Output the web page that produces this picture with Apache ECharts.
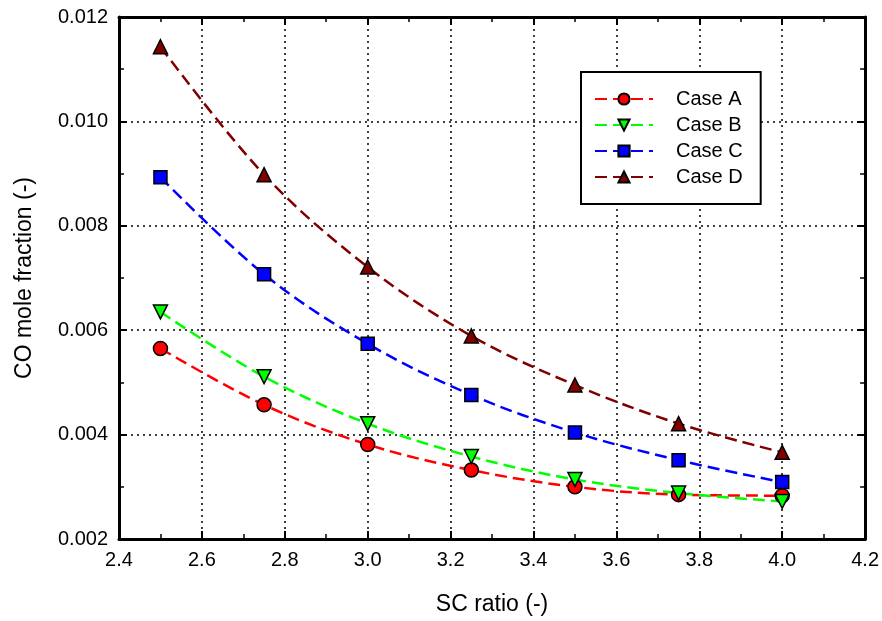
<!DOCTYPE html>
<html>
<head>
<meta charset="utf-8">
<script src="https://cdn.jsdelivr.net/npm/echarts@6/dist/echarts.min.js"></script>
<style>
html,body{margin:0;padding:0;background:#fff;}
#chart{width:882px;height:621px;}
</style>
</head>
<body>
<div id="chart"></div>
<script>
var fontFamily='Arial,"Liberation Sans",Helvetica,sans-serif';
var scRatio=[2.5,2.75,3.0,3.25,3.5,3.75,4.0];
var caseA=[0.00565,0.00457,0.00381,0.00332,0.00300,0.00285,0.00283];
var caseB=[0.00635,0.00511,0.00421,0.00358,0.00314,0.00288,0.00272];
var caseC=[0.00893,0.00707,0.00574,0.00476,0.00404,0.00351,0.00309];
var caseD=[0.01143,0.00898,0.00721,0.00589,0.00495,0.00421,0.00366];

function pairs(ys){
    return scRatio.map(function(x,i){return [x,ys[i]];});
}
function mkSeries(name,ys,color,symbol,size,rot){
    return {
        name:name,
        type:'line',
        xAxisIndex:0,
        yAxisIndex:0,
        smooth:0.35,
        data:pairs(ys),
        symbol:symbol,
        symbolSize:size,
        symbolRotate:rot||0,
        lineStyle:{color:color,width:2.5,type:[12,6]},
        itemStyle:{color:color,borderColor:'#000',borderWidth:1.5},
        z:3
    };
}
var chart=echarts.init(document.getElementById('chart'),null,{renderer:'canvas'});
var baseX={
    type:'value',min:2.4,max:4.2,interval:0.2,
    axisLine:{show:true,onZero:false,lineStyle:{color:'#000',width:3}},
    axisTick:{show:true,inside:true,length:8,lineStyle:{color:'#000',width:2}},
    minorTick:{show:true,splitNumber:2,length:5,lineStyle:{color:'#000',width:1.5}}
};
var baseY={
    type:'value',min:0.002,max:0.012,interval:0.002,
    axisLine:{show:true,onZero:false,lineStyle:{color:'#000',width:3}},
    axisTick:{show:true,inside:true,length:8,lineStyle:{color:'#000',width:2}},
    minorTick:{show:true,splitNumber:2,length:5,lineStyle:{color:'#000',width:1.5}}
};
var option={
    animation:false,
    backgroundColor:'#fff',
    grid:{left:119,right:14,top:17,bottom:82,containLabel:false},
    legend:{
        orient:'vertical',
        left:581,top:72,
        padding:[17,18,17,13],
        itemWidth:58,itemHeight:14,itemGap:6,
        borderColor:'#000',borderWidth:2,
        backgroundColor:'#fff',
        textStyle:{color:'#000',fontSize:20,lineHeight:20,fontFamily:fontFamily,padding:[0,0,0,18]},
        data:['Case A','Case B','Case C','Case D']
    },
    xAxis:[
        Object.assign({},baseX,{
            position:'bottom',
            name:'SC ratio (-)',nameLocation:'middle',nameGap:54,
            nameTextStyle:{color:'#000',fontSize:23,fontFamily:fontFamily},
            axisLabel:{color:'#000',fontSize:20,fontFamily:fontFamily,margin:11,
                formatter:function(v){return v.toFixed(1);}},
            splitLine:{show:true,lineStyle:{color:'#000',width:1.5,type:[2,4]}}
        }),
        Object.assign({},baseX,{position:'top',axisLabel:{show:false},splitLine:{show:false}})
    ],
    yAxis:[
        Object.assign({},baseY,{
            position:'left',
            name:'CO mole fraction (-)',nameLocation:'middle',nameGap:83,
            nameTextStyle:{color:'#000',fontSize:23,fontFamily:fontFamily},
            axisLabel:{color:'#000',fontSize:20,fontFamily:fontFamily,margin:11,
                formatter:function(v){return v.toFixed(3);}},
            splitLine:{show:true,lineStyle:{color:'#000',width:1.5,type:[2,4]}}
        }),
        Object.assign({},baseY,{position:'right',axisLabel:{show:false},splitLine:{show:false}})
    ],
    series:[
        mkSeries('Case A',caseA,'#ff0000','circle',14),
        mkSeries('Case B',caseB,'#00ff00','triangle',14,180),
        mkSeries('Case C',caseC,'#0000ff','rect',13),
        mkSeries('Case D',caseD,'#800000','triangle',14)
    ]
};
chart.setOption(option);
</script>
</body>
</html>
